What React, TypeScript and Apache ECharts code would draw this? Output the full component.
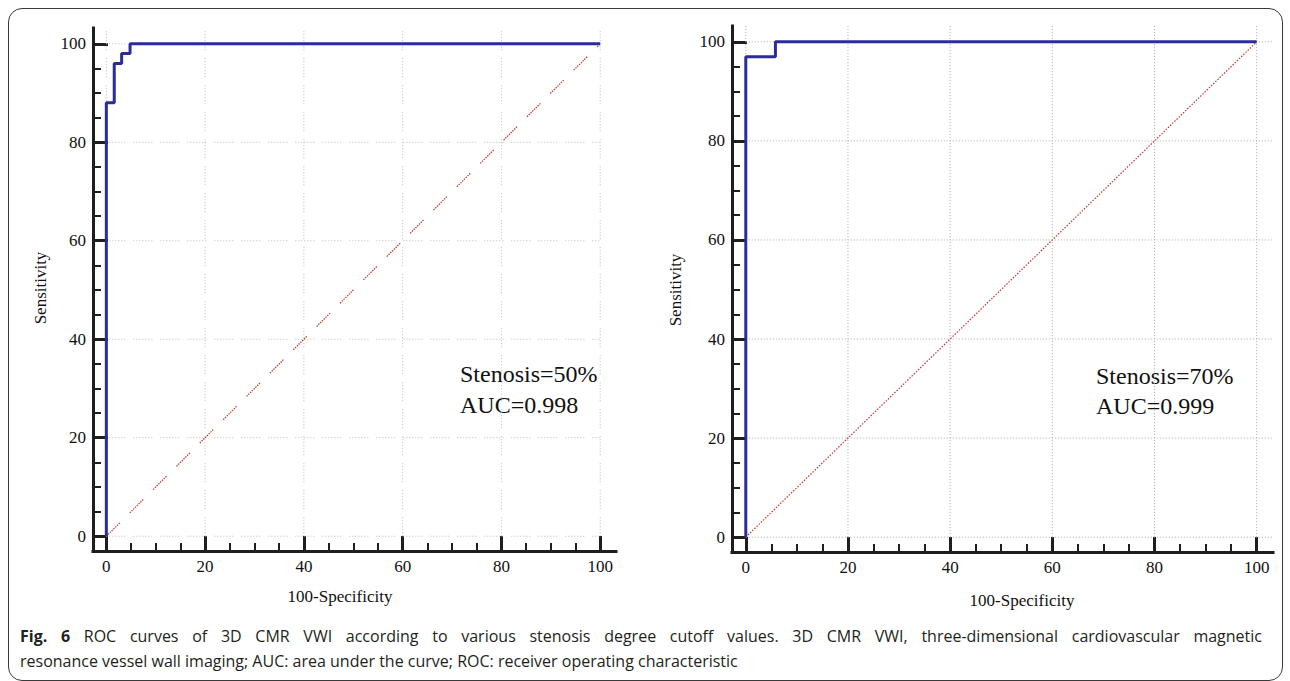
import React, { useEffect, useRef } from "react";
import * as echarts from "echarts";

const majorTicks = [0, 20, 40, 60, 80, 100];
const minorTicks = [5, 10, 15, 25, 30, 35, 45, 50, 55, 65, 70, 75, 85, 90, 95];

const leftRocX = [0, 0, 1.6, 1.6, 3.1, 3.1, 4.8, 4.8, 100];
const leftRocY = [0, 88, 88, 96, 96, 98, 98, 100, 100];
const rightRocX = [0, 0, 5.8, 5.8, 100];
const rightRocY = [0, 97, 97, 100, 100];
const diagonal = [0, 100];

const leftLabel = ["Stenosis=50%", "AUC=0.998"];
const rightLabel = ["Stenosis=70%", "AUC=0.999"];

const AXIS_MIN_X = -2.7;
const AXIS_MIN_Y = -3;
const AXIS_MAX = 103.2;

const SERIF = "'Liberation Serif', 'Times New Roman', serif";
const BLUE = "#2b2b9c";
const RED = "#c0392b";
const INK = "#1e1e1e";

function zip(xs: number[], ys: number[]) {
  return xs.map((x, i) => [x, ys[i]]);
}

function axisPair(kind: "x" | "y", gridIndex: number) {
  const common = {
    type: "value",
    gridIndex,
    min: kind === "x" ? AXIS_MIN_X : AXIS_MIN_Y,
    max: AXIS_MAX,
    position: kind === "x" ? "bottom" : "left",
    splitLine: { show: false },
  };
  const major = {
    ...common,
    axisLine: { show: true, onZero: false, lineStyle: { color: INK, width: 3, cap: "square" } },
    axisTick: {
      show: true,
      inside: true,
      length: 15,
      customValues: majorTicks,
      lineStyle: { color: INK, width: 3 },
    },
    axisLabel: {
      show: true,
      customValues: majorTicks,
      margin: 7,
      color: "#111",
      fontFamily: SERIF,
      fontSize: 17,
    },
  };
  const minor = {
    ...common,
    axisLine: { show: false, onZero: false },
    axisTick: {
      show: true,
      inside: true,
      length: 8,
      customValues: minorTicks,
      lineStyle: { color: INK, width: 2 },
    },
    axisLabel: { show: false },
  };
  return [major, minor];
}

function gridSeries(
  gridIndex: number,
  hEnd: number,
  vEnd: number,
  dash: number[] | string,
  color: string
) {
  const axes = { xAxisIndex: gridIndex * 2, yAxisIndex: gridIndex * 2 };
  const out: any[] = [];
  majorTicks.forEach((v) => {
    out.push({
      type: "line",
      ...axes,
      data: [
        [v, 0],
        [v, vEnd],
      ],
      showSymbol: false,
      silent: true,
      z: 1,
      lineStyle: { color, width: 1, type: dash },
    });
    out.push({
      type: "line",
      ...axes,
      data: [
        [0, v],
        [hEnd, v],
      ],
      showSymbol: false,
      silent: true,
      z: 1,
      lineStyle: { color, width: 1, type: dash },
    });
  });
  return out;
}

export default function App() {
  const ref = useRef<HTMLDivElement>(null);

  useEffect(() => {
    if (!ref.current) return;
    const chart = echarts.init(ref.current, undefined, { renderer: "svg" });
    const [lx, lxm] = axisPair("x", 0);
    const [ly, lym] = axisPair("y", 0);
    const [rx, rxm] = axisPair("x", 1);
    const [ry, rym] = axisPair("y", 1);

    const textStyle = (t: string) => ({
      text: t,
      font: `24px ${SERIF}`,
      fill: "#111",
      verticalAlign: "middle",
    });
    const nameStyle = (t: string) => ({
      text: t,
      font: `17px ${SERIF}`,
      fill: "#111",
      align: "center",
      verticalAlign: "middle",
    });

    chart.setOption({
      animation: false,
      grid: [
        { left: 93, top: 28, width: 523, height: 523 },
        { left: 732, top: 26, width: 541, height: 526 },
      ],
      xAxis: [lx, lxm, rx, rxm],
      yAxis: [ly, lym, ry, rym],
      series: [
        ...gridSeries(0, 100, AXIS_MAX, [1, 2, 1, 2, 1, 2, 1, 2, 1, 2, 1, 2, 1, 8], "#b8b8b8"),
        ...gridSeries(1, AXIS_MAX, AXIS_MAX, [1, 2], "#aaaaaa"),
        {
          type: "line",
          xAxisIndex: 0,
          yAxisIndex: 0,
          data: zip(diagonal, diagonal),
          showSymbol: false,
          silent: true,
          z: 2,
          lineStyle: { color: RED, width: 1.2, type: [1.5, 1, 1.5, 1, 1.5, 1, 1.5, 1, 1.5, 1, 1.5, 1, 1.5, 1, 1.5, 14] },
        },
        {
          type: "line",
          xAxisIndex: 2,
          yAxisIndex: 2,
          data: zip(diagonal, diagonal),
          showSymbol: false,
          silent: true,
          z: 2,
          lineStyle: { color: RED, width: 1.2, type: [1.5, 1.5] },
        },
        {
          type: "line",
          xAxisIndex: 0,
          yAxisIndex: 0,
          data: zip(leftRocX, leftRocY),
          showSymbol: false,
          z: 3,
          lineStyle: { color: BLUE, width: 3 },
        },
        {
          type: "line",
          xAxisIndex: 2,
          yAxisIndex: 2,
          data: zip(rightRocX, rightRocY),
          showSymbol: false,
          z: 3,
          lineStyle: { color: BLUE, width: 3 },
        },
      ],
      graphic: [
        { type: "text", x: 460, y: 374, style: textStyle(leftLabel[0]) },
        { type: "text", x: 460, y: 405, style: textStyle(leftLabel[1]) },
        { type: "text", x: 1096, y: 376, style: textStyle(rightLabel[0]) },
        { type: "text", x: 1096, y: 406, style: textStyle(rightLabel[1]) },
        { type: "text", x: 340, y: 596, style: nameStyle("100-Specificity") },
        { type: "text", x: 1022, y: 600, style: nameStyle("100-Specificity") },
        { type: "text", x: 40, y: 288, rotation: Math.PI / 2, style: nameStyle("Sensitivity") },
        { type: "text", x: 675, y: 290, rotation: Math.PI / 2, style: nameStyle("Sensitivity") },
      ],
    });
    return () => chart.dispose();
  }, []);

  return (
    <>
      <div
        style={{
          position: "absolute",
          left: 8,
          top: 8,
          width: 1275,
          height: 673,
          boxSizing: "border-box",
          border: "1.5px solid #3a3a3a",
          borderRadius: 14,
        }}
      />
      <div
        ref={ref}
        style={{ position: "absolute", left: 0, top: 0, width: 1290, height: 615 }}
      />
      <div
        style={{
          position: "absolute",
          left: 20,
          top: 624,
          width: 1242,
          fontFamily: "'Open Sans', 'Noto Sans', sans-serif",
          fontSize: 16,
          lineHeight: "25px",
          color: "#231f20",
        }}
      >
        <div style={{ textAlign: "justify", textAlignLast: "justify", whiteSpace: "nowrap" as any }}>
          <span style={{ whiteSpace: "normal" }}>
            <b>Fig. 6</b> ROC curves of 3D CMR VWI according to various stenosis degree cutoff values. 3D CMR VWI,
            three-dimensional cardiovascular magnetic
          </span>
        </div>
        <div>resonance vessel wall imaging; AUC: area under the curve; ROC: receiver operating characteristic</div>
      </div>
    </>
  );
}
